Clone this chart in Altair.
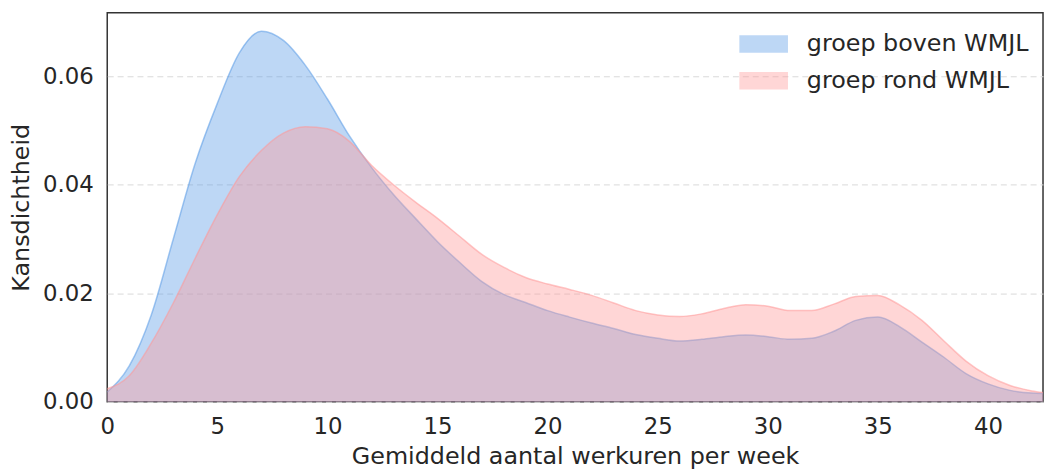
import altair as alt
import pandas as pd

hours = [0, 1, 2, 3, 4, 5, 6, 7, 8, 9, 10, 11, 12, 13, 14, 15, 16, 17, 18, 19, 20,
         21, 22, 23, 24, 25, 26, 27, 28, 29, 30, 31, 32, 33, 34, 35, 36, 37, 38, 39,
         40, 41, 42, 42.5]

boven = [0.0018, 0.0066, 0.0160, 0.0300, 0.0440, 0.0550, 0.0643, 0.0683, 0.0666,
         0.0620, 0.0558, 0.0490, 0.0432, 0.0382, 0.0338, 0.0295, 0.0257, 0.0222,
         0.0198, 0.0183, 0.0168, 0.0156, 0.0145, 0.0135, 0.0124, 0.0117, 0.0112,
         0.0115, 0.0120, 0.0123, 0.0120, 0.0115, 0.0117, 0.0130, 0.0150, 0.0156,
         0.0138, 0.0110, 0.0082, 0.0052, 0.0033, 0.0021, 0.0016, 0.0015]

rond = [0.0024, 0.0048, 0.0108, 0.0182, 0.0265, 0.0345, 0.0415, 0.0463, 0.0495,
        0.0507, 0.0503, 0.0480, 0.0436, 0.0400, 0.0368, 0.0338, 0.0305, 0.0272,
        0.0248, 0.0229, 0.0217, 0.0207, 0.0196, 0.0182, 0.0168, 0.0160, 0.0157,
        0.0162, 0.0172, 0.0179, 0.0176, 0.0168, 0.0168, 0.0180, 0.0194, 0.0196,
        0.0178, 0.0150, 0.0112, 0.0075, 0.0048, 0.0030, 0.0020, 0.0017]

groups = ["groep boven WMJL", "groep rond WMJL"]
colors = ["#5a9be6", "#ff9898"]

rows = []
for g, vals in zip(groups, [boven, rond]):
    for h, v in zip(hours, vals):
        rows.append({"uren": h, "dichtheid": v, "groep": g})
df = pd.DataFrame(rows)

FONT = "DejaVu Sans"
TXT = "#262626"

color_scale = alt.Scale(domain=groups, range=colors)

x_enc = alt.X("uren:Q", scale=alt.Scale(domain=[0, 42.5], nice=False, zero=False),
              axis=alt.Axis(title="Gemiddeld aantal werkuren per week",
                            values=[0, 5, 10, 15, 20, 25, 30, 35, 40],
                            grid=False, ticks=False, domain=False, labelFlush=False,
                            labelPadding=14, titlePadding=6))
y_enc = alt.Y("dichtheid:Q", stack=None, scale=alt.Scale(domain=[0, 0.0717], nice=False),
              axis=alt.Axis(title="Kansdichtheid", values=[0, 0.02, 0.04, 0.06], format=".2f",
                            grid=True, ticks=False, domain=False, labelPadding=14, titlePadding=9,
                            gridDash=[6, 4], gridColor="#d9d9d9", gridWidth=1))
legend = alt.Legend(title=None, orient="none", legendX=637, legendY=7,
                    symbolType="M-1,-0.36L1,-0.36L1,0.36L-1,0.36Z",
                    symbolSize=2400, symbolStrokeWidth=0,
                    labelFontSize=24, labelFont=FONT, labelColor=TXT,
                    labelOffset=19, rowPadding=0, labelLimit=0)

base = alt.Chart(df)
layers = []
for g in groups:
    sub = base.transform_filter(alt.datum.groep == g)
    layers.append(sub.mark_area(interpolate="monotone", opacity=0.4).encode(
        x=x_enc, y=y_enc,
        color=alt.Color("groep:N", scale=color_scale, legend=legend)))
    layers.append(sub.mark_line(interpolate="monotone", strokeOpacity=0.55, strokeWidth=1.5).encode(
        x=x_enc, y=y_enc,
        stroke=alt.Stroke("groep:N", scale=color_scale, legend=None)))

chart = alt.layer(*layers).properties(
    width=943, height=392,
    autosize=alt.AutoSizeParams(type="none"),
    padding={"left": 100, "top": 3, "right": 2, "bottom": 68},
    background="white",
).configure_view(
    stroke="#333333", strokeWidth=1.5
).configure_axis(
    labelFont=FONT, titleFont=FONT, labelFontSize=23, titleFontSize=24,
    labelColor=TXT, titleColor=TXT, titleFontWeight="normal",
)

chart.save("out.html", embed_options={"renderer": "svg", "actions": False})
